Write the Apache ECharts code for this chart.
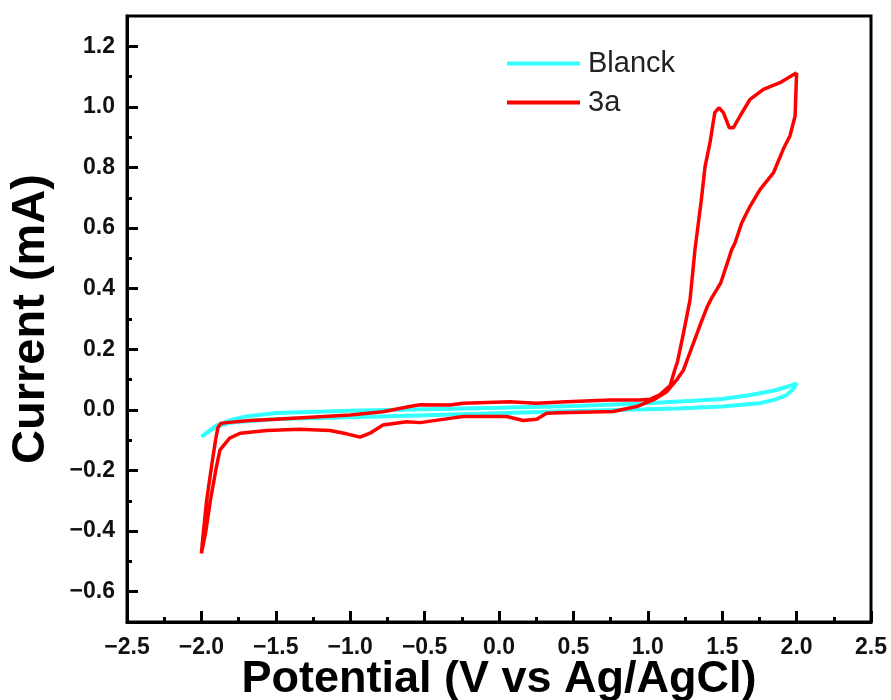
<!DOCTYPE html>
<html>
<head>
<meta charset="utf-8">
<script src="https://cdn.jsdelivr.net/npm/echarts@6/dist/echarts.min.js"></script>
<style>html,body{margin:0;padding:0;background:#fff}#c{width:891px;height:700px}</style>
</head>
<body>
<div id="c"></div>
<script>
// Blanck (cyan) loop: potential (V) and current (mA)
const blankV = [-2.0,-1.95,-1.9,-1.8,-1.7,-1.5,-1.0,-0.5,0.0,0.5,1.0,1.3,1.5,1.7,1.85,1.95,2.0,
                1.98,1.93,1.85,1.75,1.5,1.2,1.0,0.5,0.0,-0.5,-1.0,-1.5,-1.8,-1.9,-2.0];
const blankI = [-0.088,-0.07,-0.052,-0.033,-0.022,-0.01,-0.003,0.002,0.007,0.013,0.022,0.03,0.036,0.05,0.064,0.078,0.088,
                0.07,0.048,0.033,0.022,0.011,0.005,0.002,-0.004,-0.011,-0.018,-0.024,-0.03,-0.042,-0.055,-0.088];

// 3a (red) loop
const a3V = [2.0,1.99,1.955,1.91,1.844,1.754,1.687,1.631,1.586,1.564,1.49,1.43,1.4,1.357,1.29,1.24,1.194,1.127,1.037,0.925,0.768,0.41,0.32,0.253,0.163,0.052,-0.24,-0.33,-0.53,-0.62,-0.78,-0.867,-0.934,-1.024,-1.136,-1.337,-1.56,-1.74,-1.81,-1.875,-1.9,-1.94,-1.97,-2.0,
             -1.99,-1.965,-1.93,-1.905,-1.89,-1.87,-1.83,-1.674,-1.5,-1.0,-0.78,-0.6,-0.53,-0.33,-0.24,0.074,0.25,0.455,0.746,0.948,1.015,1.08,1.15,1.18,1.2,1.24,1.284,1.317,1.36,1.385,1.418,1.45,1.478,1.508,1.548,1.575,1.62,1.687,1.777,1.888,2.0];
const a3I = [1.113,0.97,0.904,0.86,0.782,0.727,0.672,0.617,0.551,0.529,0.419,0.37,0.341,0.287,0.198,0.132,0.099,0.06,0.033,0.011,-0.005,-0.009,-0.011,-0.031,-0.035,-0.022,-0.022,-0.028,-0.042,-0.039,-0.05,-0.077,-0.09,-0.079,-0.068,-0.064,-0.068,-0.077,-0.093,-0.132,-0.19,-0.3,-0.4,-0.474,
             -0.42,-0.3,-0.18,-0.1,-0.06,-0.045,-0.042,-0.035,-0.031,-0.017,-0.006,0.011,0.017,0.016,0.022,0.027,0.022,0.027,0.033,0.033,0.035,0.05,0.08,0.13,0.16,0.254,0.364,0.529,0.694,0.804,0.882,0.981,0.997,0.981,0.931,0.931,0.97,1.025,1.058,1.08,1.113];

const yMajorTicks = [-0.6,-0.4,-0.2,0.0,0.2,0.4,0.6,0.8,1.0,1.2];
const yMinorTicks = [-0.5,-0.3,-0.1,0.1,0.3,0.5,0.7,0.9,1.1];

const zip = (a, b) => a.map((v, i) => [v, b[i]]);
const fmt = v => { const s = (Math.abs(v) < 1e-9 ? 0 : v).toFixed(1); return s.replace('-', '\u2212'); };

const labelStyle = { color: '#111', fontFamily: 'Liberation Sans, Arial, sans-serif', fontWeight: 'bold', fontSize: 23 };
const nameStyle = { color: '#000', fontFamily: 'Liberation Sans, Arial, sans-serif', fontWeight: 'bold', fontSize: 45 };

const chart = echarts.init(document.getElementById('c'), null, { renderer: 'canvas' });
chart.setOption({
  animation: false,
  backgroundColor: '#fff',
  grid: { left: 127, right: 20, top: 16, bottom: 78, show: true, borderColor: '#000', borderWidth: 3,
          containLabel: false, outerBoundsMode: 'none' },
  legend: {
    orient: 'vertical', left: 507, top: 49, padding: 0, itemWidth: 73, itemHeight: 4, itemGap: 10,
    icon: 'rect',
    textStyle: { fontFamily: 'Liberation Sans, Arial, sans-serif', fontSize: 29, color: '#222', padding: [0,0,0,3] },
    data: ['Blanck', '3a']
  },
  xAxis: {
    type: 'value', min: -2.5, max: 2.5, interval: 0.5,
    name: 'Potential (V vs Ag/AgCl)', nameLocation: 'middle', nameGap: 35, nameMoveOverlap: false, nameTextStyle: nameStyle,
    axisLine: { show: true, onZero: false, lineStyle: { color: '#000', width: 3 } },
    axisTick: { show: true, inside: true, length: 11, lineStyle: { color: '#000', width: 3 } },
    minorTick: { show: true, splitNumber: 2, length: 5, lineStyle: { color: '#000', width: 3 } },
    axisLabel: Object.assign({ margin: 14, formatter: fmt }, labelStyle),
    splitLine: { show: false }
  },
  yAxis: [{
    type: 'value', min: -0.7, max: 1.3,
    name: 'Current (mA)', nameLocation: 'middle', nameGap: 72, nameTextStyle: Object.assign({}, nameStyle, { fontSize: 47 }),
    axisLine: { show: true, onZero: false, lineStyle: { color: '#000', width: 3 } },
    axisTick: { show: true, inside: true, length: 11, customValues: yMajorTicks, lineStyle: { color: '#000', width: 3 } },
    axisLabel: Object.assign({ margin: 12, customValues: yMajorTicks, formatter: fmt }, labelStyle),
    splitLine: { show: false }
  }, {
    type: 'value', min: -0.7, max: 1.3, position: 'left', offset: 0,
    axisLine: { show: false, onZero: false },
    axisTick: { show: true, inside: true, length: 5, customValues: yMinorTicks, lineStyle: { color: '#000', width: 3 } },
    axisLabel: { show: false },
    splitLine: { show: false }
  }],
  series: [
    { name: 'Blanck', type: 'line', data: zip(blankV, blankI), showSymbol: false, symbol: 'none',
      lineStyle: { color: '#33ffff', width: 4 }, itemStyle: { color: '#33ffff' } },
    { name: '3a', type: 'line', data: zip(a3V, a3I), showSymbol: false, symbol: 'none',
      lineStyle: { color: '#ff0000', width: 3.5 }, itemStyle: { color: '#ff0000' } }
  ]
});
</script>
</body>
</html>
